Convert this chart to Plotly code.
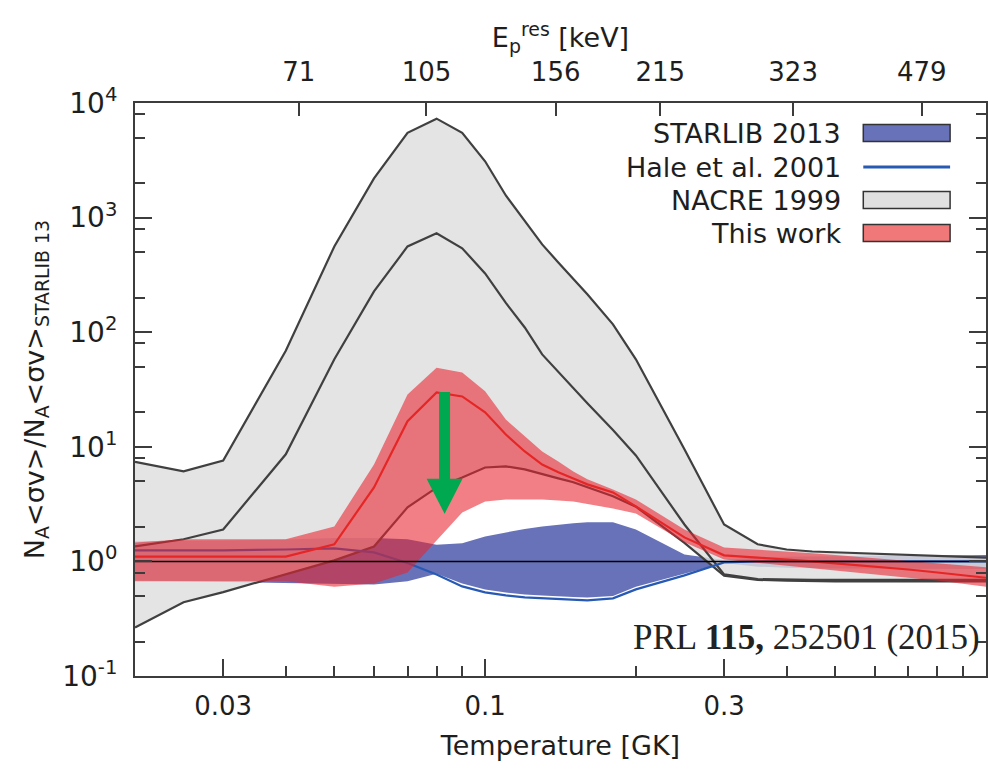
import numpy as np
import plotly.graph_objects as go

# Temperature grid [GK]
T9 = [0.02, 0.025, 0.03, 0.04, 0.05, 0.06, 0.07, 0.08, 0.09, 0.1,
      0.11, 0.12, 0.13, 0.14, 0.15, 0.16, 0.18, 0.2, 0.25, 0.3,
      0.35, 0.4, 0.45, 0.5, 0.6, 0.7, 0.8, 0.9, 1.0]

# NACRE 1999 (upper, recommended, lower) relative to STARLIB 2013
nacre_high = [7.4, 6.1, 7.6, 69, 560, 2200, 5500, 7300, 5500, 3100,
              1560, 930, 584, 406, 289, 214, 117, 58, 9.5, 2.1,
              1.41, 1.27, 1.22, 1.2, 1.16, 1.13, 1.11, 1.09, 1.08]
nacre_rec = [1.35, 1.56, 1.9, 8.6, 58, 227, 560, 730, 540, 326,
             180, 110, 64, 45, 33, 24, 14, 8.4, 2.1, 0.77,
             0.70, 0.69, 0.69, 0.69, 0.69, 0.69, 0.69, 0.69, 0.69]
nacre_low = [0.265, 0.44, 0.54, 0.77, 1.02, 1.35, 2.96, 4.4, 5.4, 6.6,
             6.75, 6.35, 5.75, 5.3, 4.9, 4.45, 3.7, 3.0, 1.45, 0.75,
             0.69, 0.68, 0.67, 0.67, 0.67, 0.67, 0.67, 0.67, 0.67]

# STARLIB 2013 uncertainty band
starlib_high = [1.5, 1.5, 1.52, 1.55, 1.6, 1.6, 1.56, 1.4, 1.44, 1.65,
                1.8, 1.92, 2.02, 2.1, 2.15, 2.2, 2.2, 1.9, 1.15, 1.03,
                1.08, 1.1, 1.1, 1.11, 1.12, 1.12, 1.13, 1.13, 1.14]
starlib_low = [0.68, 0.67, 0.66, 0.65, 0.64, 0.63, 0.67, 0.78, 0.64, 0.57,
               0.535, 0.515, 0.505, 0.495, 0.49, 0.485, 0.5, 0.6, 0.78, 0.97,
               0.9, 0.88, 0.87, 0.87, 0.87, 0.86, 0.86, 0.86, 0.86]

# Hale et al. 2001
hale = [1.25, 1.25, 1.25, 1.27, 1.3, 1.2, 0.97, 0.77, 0.605, 0.537,
        0.505, 0.485, 0.476, 0.466, 0.46, 0.457, 0.476, 0.57, 0.755, 0.98,
        1.0, 1.0, 1.0, 1.0, 1.0, 1.0, 1.0, 1.0, 1.0]

# This work (upper, recommended, lower)
this_high = [1.46, 1.56, 1.56, 1.56, 2.02, 7.0, 28.6, 49, 44.6, 30.5,
             17.3, 12.3, 9.1, 7.45, 6.1, 5.2, 4.25, 3.47, 1.9, 1.32,
             1.27, 1.22, 1.18, 1.14, 1.07, 1.01, 0.96, 0.92, 0.89]
this_rec = [1.1, 1.1, 1.1, 1.1, 1.41, 4.42, 16.7, 29.8, 27.5, 20,
            12.8, 9.1, 7.0, 6.0, 5.3, 4.7, 4.0, 3.02, 1.62, 1.13,
            1.08, 1.04, 1.0, 0.96, 0.90, 0.85, 0.80, 0.76, 0.72]
this_low = [0.67, 0.67, 0.67, 0.67, 0.6, 0.64, 0.8, 1.52, 2.67, 3.33,
            3.47, 3.47, 3.47, 3.4, 3.33, 3.2, 2.9, 2.62, 1.47, 1.04,
            0.98, 0.92, 0.87, 0.83, 0.77, 0.72, 0.68, 0.64, 0.6]

# Axis ticks
x_tickvals = [0.03, 0.1, 0.3, 1]
x_ticktext = ["0.03", "0.1", "0.3", "1"]
x_minor = [0.04, 0.05, 0.06, 0.07, 0.08, 0.09, 0.2, 0.4, 0.5, 0.6, 0.7, 0.8, 0.9]
y_tickvals = [0.1, 1, 10, 100, 1000, 10000]
y_ticktext = ["10<sup>-1</sup>", "10<sup>0</sup>", "10<sup>1</sup>",
              "10<sup>2</sup>", "10<sup>3</sup>", "10<sup>4</sup>"]
y_minor = [m * 10.0 ** d for d in range(-1, 4) for m in (2, 5, 8)]

# Resonance energies [keV] marked on the top axis
ep_res_kev = [71, 105, 156, 215, 323, 479]


def gamow_temperature(e_lab_kev):
    """Temperature whose Gamow peak sits at the given lab proton energy (22Ne+p)."""
    mu = 22.0 / 23.0
    e_cm_at_t1 = 122.0 * (1 * 100 * mu) ** (1 / 3)  # keV at T9 = 1
    e_lab_at_t1 = e_cm_at_t1 * 23.0 / 22.0
    return (np.asarray(e_lab_kev, float) / e_lab_at_t1) ** 1.5


ep_tick_T = gamow_temperature(ep_res_kev)

FONT = "DejaVu Sans"
AX = "#3c3c3c"
TXT = "#1e1e1e"
XR = [np.log10(0.02), 0.0]
YR = [-1.0, 4.0]
W, H = 853, 573


def band(x, hi, lo, color):
    return go.Scatter(x=list(x) + list(x)[::-1], y=list(hi) + list(lo)[::-1],
                      mode="lines", fill="toself", fillcolor=color,
                      line=dict(width=0), hoverinfo="skip", showlegend=False)


def line(x, y, color, width):
    return go.Scatter(x=x, y=y, mode="lines", line=dict(color=color, width=width),
                      hoverinfo="skip", showlegend=False)


fig = go.Figure()
fig.add_trace(band(T9, starlib_high, starlib_low, "rgb(104,114,184)"))
fig.add_trace(band(T9, nacre_high, nacre_low, "rgba(222,222,222,0.82)"))
for series in (nacre_high, nacre_rec, nacre_low):
    fig.add_trace(line(T9, series, "rgb(64,64,64)", 2.2))
fig.add_trace(line(T9, hale, "rgb(40,90,180)", 2.2))
fig.add_trace(band(T9, this_high, this_low, "rgba(232,35,45,0.58)"))
fig.add_trace(line(T9, this_rec, "rgb(230,38,38)", 2.2))
fig.add_trace(line([T9[0], T9[-1]], [1, 1], "black", 1.5))
# anchor trace for the energy axis
fig.add_trace(go.Scatter(x=[T9[0]], y=[1], xaxis="x2", mode="markers",
                         marker=dict(opacity=0), hoverinfo="skip", showlegend=False))


def px(t):
    return (np.log10(t) - XR[0]) / (XR[1] - XR[0])


def py(r):
    return (np.log10(r) - YR[0]) / (YR[1] - YR[0])


# Green arrow marking the drop of the rate
ARROW_T, ARROW_FROM, ARROW_TO = 0.083, 30, 2.6
xc, yt, ytip = px(ARROW_T), py(ARROW_FROM), py(ARROW_TO)
hw, hh, hl = 5.5 / W, 18.0 / W, 35.0 / H
arrow_path = (f"M{xc-hw},{yt} L{xc+hw},{yt} L{xc+hw},{ytip+hl} L{xc+hh},{ytip+hl} "
              f"L{xc},{ytip} L{xc-hh},{ytip+hl} L{xc-hw},{ytip+hl} Z")
shapes = [dict(type="path", xref="paper", yref="paper", path=arrow_path,
               fillcolor="rgb(0,168,80)", line=dict(width=0), layer="above")]

# Legend drawn with right-aligned labels and symbols on the right
legend_items = [("STARLIB 2013", "box", "rgb(104,114,184)"),
                ("Hale et al. 2001", "line", "rgb(40,90,180)"),
                ("NACRE 1999", "box", "rgb(224,224,224)"),
                ("This work", "box", "rgb(240,120,120)")]
annotations = []
row_y = [0.9476, 0.8883, 0.8307, 0.7731]
sx0, sx1, sh = 0.8558, 0.9578, 8.5 / H
for (label, kind, color), yy in zip(legend_items, row_y):
    annotations.append(dict(x=0.8324, y=yy, xref="paper", yref="paper", text=label,
                            showarrow=False, xanchor="right", yanchor="middle",
                            font=dict(family=FONT, size=27, color=TXT)))
    if kind == "box":
        shapes.append(dict(type="rect", xref="paper", yref="paper", x0=sx0, x1=sx1,
                           y0=yy - sh, y1=yy + sh, fillcolor=color,
                           line=dict(color="#333333", width=1.5), layer="above"))
    else:
        shapes.append(dict(type="line", xref="paper", yref="paper", x0=sx0, x1=sx1,
                           y0=yy, y1=yy, line=dict(color=color, width=3), layer="above"))

annotations.append(dict(x=0.995, y=0.068, xref="paper", yref="paper",
                        text="PRL <b>115,</b> 252501 (2015)", showarrow=False,
                        xanchor="right", yanchor="middle",
                        font=dict(family="Liberation Serif", size=35, color="#222222")))

tickfont = dict(family=FONT, size=26, color=TXT)
titlefont = dict(family=FONT, size=27, color=TXT)

fig.update_layout(
    width=988, height=772,
    margin=dict(l=135, r=0, t=103, b=96),
    paper_bgcolor="white", plot_bgcolor="white",
    showlegend=False,
    shapes=shapes, annotations=annotations,
    xaxis=dict(type="log", range=XR, tickmode="array", tickvals=x_tickvals,
               ticktext=x_ticktext, ticks="inside", ticklen=17, tickwidth=2,
               tickcolor=AX, showline=True, linecolor=AX, linewidth=2,
               showgrid=False, zeroline=False, tickfont=tickfont,
               ticklabelstandoff=6,
               minor=dict(tickmode="array", tickvals=x_minor, ticks="inside",
                          ticklen=10, tickwidth=1.5, tickcolor=AX, showgrid=False),
               title=dict(text="Temperature [GK]", font=titlefont, standoff=16)),
    xaxis2=dict(type="log", range=XR, overlaying="x", side="top", anchor="y",
                tickmode="array", tickvals=list(ep_tick_T),
                ticktext=[str(e) for e in ep_res_kev], ticks="inside", ticklen=13,
                tickwidth=2, tickcolor=AX, showline=True, linecolor=AX, linewidth=2,
                showgrid=False, zeroline=False, tickfont=tickfont,
                ticklabelstandoff=10,
                title=dict(text="E<sub>p</sub><sup>res</sup> [keV]", font=titlefont,
                           standoff=0)),
    yaxis=dict(type="log", range=YR, tickmode="array", tickvals=y_tickvals,
               ticktext=y_ticktext, ticks="inside", ticklen=17, tickwidth=2,
               tickcolor=AX, showline=True, linecolor=AX, linewidth=2, mirror="ticks",
               showgrid=False, zeroline=False, tickfont=dict(family=FONT, size=28, color=TXT),
               ticklabelstandoff=10,
               minor=dict(tickmode="array", tickvals=y_minor, ticks="inside",
                          ticklen=10, tickwidth=1.5, tickcolor=AX, showgrid=False),
               title=dict(text="N<sub>A</sub>&lt;σv&gt;/N<sub>A</sub>&lt;σv&gt;"
                               "<sub>STARLIB 13</sub>", font=titlefont, standoff=10)),
)

fig.write_html("out.html")
